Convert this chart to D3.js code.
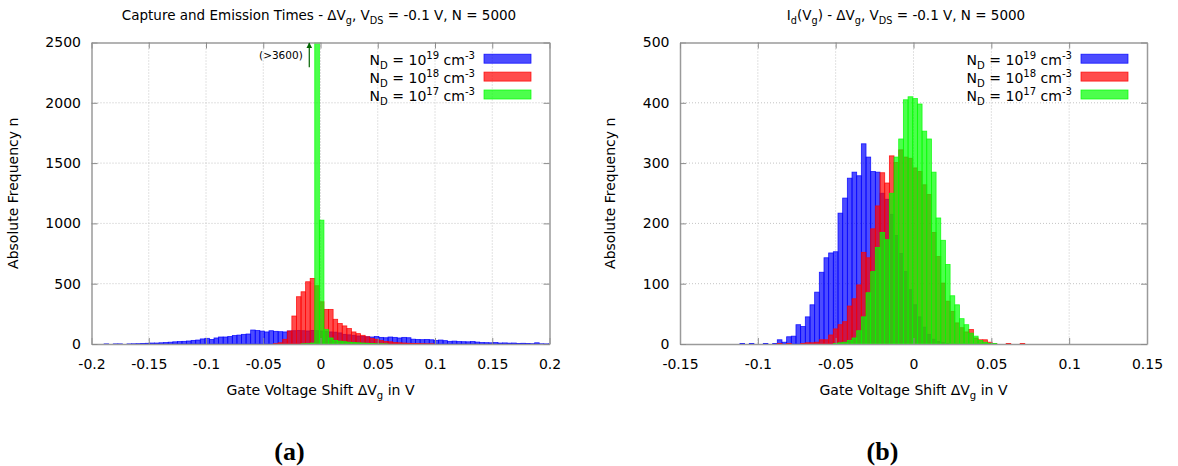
<!DOCTYPE html>
<html>
<head>
<meta charset="utf-8">
<script src="https://cdn.jsdelivr.net/npm/d3@7/dist/d3.min.js"></script>
<style>
  body { margin: 0; background: #fff; }
  svg { display: block; font-family: "DejaVu Sans", sans-serif; }
  .tick line { stroke: #8c8c8c; }
  .domain { stroke: #9a9a9a; stroke-width: 1.5; }
  .grid line { stroke: #c4c4c4; stroke-dasharray: 1,2; }
</style>
</head>
<body>
<script>
'use strict';

/* global d3 */

// ---- data: histogram counts, one value per bin, bins start at the given left edge ----

// panel (a): capture and emission times, bin width 0.004 V
var leftBinWidth = 0.004;
var leftBlueStart = -0.189;
var leftBlue = [1, 0, 1, 1, 0, 1, 2, 3, 5, 6,
    8, 8, 10, 12, 15, 18, 20, 22, 25, 30,
    33, 42, 47, 38, 50, 58, 58, 62, 70, 74,
    80, 83, 116, 112, 107, 100, 110, 105, 102, 100,
    108, 110, 112, 110, 108, 112, 110, 108, 105, 100,
    98, 92, 80, 76, 72, 66, 62, 60, 58, 62,
    55, 52, 58, 55, 50, 55, 52, 40, 38, 36,
    38, 35, 30, 33, 28, 22, 24, 20, 19, 18,
    20, 16, 12, 11, 10, 12, 8, 9, 7, 8,
    5, 6, 4, 3, 10, 2, 1, 1];
var leftRedStart = -0.041;
var leftRed = [3, 10, 39, 108, 232, 392, 433, 516, 544, 483,
    350, 287, 287, 205, 170, 150, 128, 100, 86, 72,
    60, 47, 38, 28, 20, 18, 12, 10, 8, 6,
    5, 4, 3, 2, 2];
var leftGreenStart = -0.017;
var leftGreen = [2, 3, 8, 3600, 1027, 120, 50, 30, 24, 19,
    15, 12, 10, 8, 6, 5, 3, 2, 1];

// panel (b): Id(Vg), bin width 0.003 V
var rightBinWidth = 0.003;
var rightBlueStart = -0.1115;
var rightBlue = [1, 0, 1, 0, 0, 1, 0, 1, 7, 3,
    12, 13, 32, 29, 45, 65, 86, 119, 143, 151,
    153, 217, 242, 275, 285, 279, 332, 310, 286, 285,
    250, 240, 215, 180, 150, 120, 90, 65, 45, 28,
    16, 8, 4, 2, 1];
var rightRedStart = -0.0875;
var rightRed = [1, 0, 1, 0, 0, 1, 2, 2, 3, 7,
    7, 15, 25, 32, 37, 63, 75, 98, 152, 143,
    191, 229, 284, 267, 312, 301, 322, 310, 308, 292,
    286, 264, 248, 185, 145, 101, 71, 54, 35, 27,
    20, 24, 10, 7, 7, 3, 1, 0, 0, 1,
    0, 0, 1];
var rightGreenStart = -0.0515;
var rightGreen = [1, 2, 3, 6, 10, 22, 45, 85, 120, 160,
    185, 173, 250, 310, 340, 405, 410, 407, 398, 353,
    340, 285, 209, 172, 132, 80, 65, 42, 32, 18,
    13, 6, 3, 1, 1];

// ticks
var leftXTicks = [-0.2, -0.15, -0.1, -0.05, 0, 0.05, 0.1, 0.15, 0.2];
var leftYTicks = [0, 500, 1000, 1500, 2000, 2500];
var rightXTicks = [-0.15, -0.1, -0.05, 0, 0.05, 0.1, 0.15];
var rightYTicks = [0, 100, 200, 300, 400, 500];

// legend exponents, same order as the series
var legendExponents = ["19", "18", "17"];
var seriesColors = ["#0000ff", "#ff0000", "#00ff00"];

// clipped bar annotation in panel (a)
var spikeArrowX = -0.0098;
var spikeLabel = "(>3600)";

// ---- drawing ----

var svg = d3.select("body").append("svg")
    .attr("width", 1178)
    .attr("height", 466);

var fmt = function(d) { return String(+d.toFixed(2)); };

// parts: [text, "sub" | "sup" | undefined]
function richText(sel, parts, size) {
    var small = size * 0.72;
    var back = 0;
    parts.forEach(function(p) {
        var own = p[1] === "sub" ? size * 0.3 : (p[1] === "sup" ? -size * 0.42 : 0);
        var t = sel.append("tspan").text(p[0]);
        if (own + back !== 0) {
            t.attr("dy", own + back);
        }
        if (p[1]) {
            t.attr("font-size", small);
        }
        back = -own;
    });
}

function drawPanel(cfg) {
    var g = svg.append("g");
    var x = d3.scaleLinear().domain(cfg.xDomain).range([cfg.left, cfg.right]);
    var y = d3.scaleLinear().domain(cfg.yDomain).range([cfg.bottom, cfg.top]);

    // grid
    g.append("g").attr("class", "grid")
        .selectAll("line.v").data(cfg.xTicks.slice(1, -1)).enter().append("line")
        .attr("x1", x).attr("x2", x).attr("y1", cfg.top).attr("y2", cfg.bottom);
    g.append("g").attr("class", "grid")
        .selectAll("line.h").data(cfg.yTicks.slice(1, -1)).enter().append("line")
        .attr("x1", cfg.left).attr("x2", cfg.right).attr("y1", y).attr("y2", y);

    var clipId = "clip" + cfg.id;
    svg.append("clipPath").attr("id", clipId).append("rect")
        .attr("x", cfg.left).attr("y", cfg.top)
        .attr("width", cfg.right - cfg.left).attr("height", cfg.bottom - cfg.top);

    var bars = g.append("g").attr("clip-path", "url(#" + clipId + ")");
    cfg.series.forEach(function(s, si) {
        var rows = s.values.map(function(v, i) {
            return { x0: s.start + i * cfg.binWidth, x1: s.start + (i + 1) * cfg.binWidth, n: v };
        }).filter(function(d) { return d.n > 0; });
        bars.append("g").selectAll("rect").data(rows).enter().append("rect")
            .attr("x", function(d) { return x(d.x0); })
            .attr("width", function(d) { return x(d.x1) - x(d.x0); })
            .attr("y", function(d) { return y(d.n); })
            .attr("height", function(d) { return y(0) - y(d.n); })
            .attr("fill", seriesColors[si])
            .attr("fill-opacity", 0.7)
            .attr("stroke", seriesColors[si])
            .attr("stroke-opacity", 0.85)
            .attr("stroke-width", 0.8);
    });

    // axes with inward ticks, mirrored on top and right
    var axB = g.append("g").attr("transform", "translate(0," + cfg.bottom + ")")
        .call(d3.axisBottom(x).tickValues(cfg.xTicks).tickFormat(fmt)
            .tickSizeInner(-6).tickSizeOuter(0).tickPadding(15));
    var axL = g.append("g").attr("transform", "translate(" + cfg.left + ",0)")
        .call(d3.axisLeft(y).tickValues(cfg.yTicks).tickFormat(fmt)
            .tickSizeInner(-6).tickSizeOuter(0).tickPadding(10.5));
    g.append("g").attr("transform", "translate(0," + cfg.top + ")")
        .call(d3.axisTop(x).tickValues(cfg.xTicks).tickFormat("")
            .tickSizeInner(-6).tickSizeOuter(0));
    g.append("g").attr("transform", "translate(" + cfg.right + ",0)")
        .call(d3.axisRight(y).tickValues(cfg.yTicks).tickFormat("")
            .tickSizeInner(-6).tickSizeOuter(0));
    [axB, axL].forEach(function(a) {
        a.selectAll("text").attr("font-size", 14).attr("fill", "#000")
            .attr("font-family", "DejaVu Sans");
    });
    g.selectAll(".domain").attr("stroke", "#9a9a9a");

    // title
    richText(g.append("text").attr("x", cfg.titleX).attr("y", 20)
        .attr("text-anchor", "middle").attr("font-size", 13.5), cfg.title, 13.5);

    // axis labels
    richText(g.append("text").attr("x", (cfg.left + cfg.right) / 2).attr("y", 395)
        .attr("text-anchor", "middle").attr("font-size", 14),
        [["Gate Voltage Shift \u0394V"], ["g", "sub"], [" in V"]], 14);
    g.append("text")
        .attr("transform", "translate(" + cfg.yLabelX + "," + ((cfg.top + cfg.bottom) / 2) + ") rotate(-90)")
        .attr("text-anchor", "middle").attr("font-size", 14)
        .text("Absolute Frequency n");

    // legend
    legendExponents.forEach(function(e, i) {
        var yy = 58.7 + i * 17.9;
        richText(g.append("text").attr("x", cfg.legendX).attr("y", yy + 6)
            .attr("text-anchor", "end").attr("font-size", 14),
            [["N"], ["D", "sub"], [" = 10"], [e, "sup"], [" cm"], ["-3", "sup"]], 14);
        g.append("rect")
            .attr("x", cfg.legendX + 9).attr("y", yy - 4.5)
            .attr("width", 47).attr("height", 9)
            .attr("fill", seriesColors[i]).attr("fill-opacity", 0.7)
            .attr("stroke", seriesColors[i]).attr("stroke-opacity", 0.85).attr("stroke-width", 0.8);
    });

    // panel letter
    g.append("text").attr("x", (cfg.left + cfg.right) / 2 - 31).attr("y", 460)
        .attr("text-anchor", "middle")
        .attr("font-family", "Liberation Serif, serif").attr("font-weight", "bold")
        .attr("font-size", 26).text(cfg.letter);

    return { x: x, y: y, g: g };
}

var left = drawPanel({
    id: "a", letter: "(a)",
    left: 91.5, right: 549.5, top: 42.5, bottom: 344,
    xDomain: [-0.2, 0.2], yDomain: [0, 2500],
    xTicks: leftXTicks, yTicks: leftYTicks,
    binWidth: leftBinWidth,
    series: [
        { start: leftBlueStart, values: leftBlue },
        { start: leftRedStart, values: leftRed },
        { start: leftGreenStart, values: leftGreen }
    ],
    title: [["Capture and Emission Times - \u0394V"], ["g", "sub"], [", V"], ["DS", "sub"], [" = -0.1 V, N = 5000"]],
    titleX: 319, yLabelX: 18, legendX: 475
});

var right = drawPanel({
    id: "b", letter: "(b)",
    left: 680, right: 1147, top: 42.5, bottom: 344,
    xDomain: [-0.15, 0.15], yDomain: [0, 500],
    xTicks: rightXTicks, yTicks: rightYTicks,
    binWidth: rightBinWidth,
    series: [
        { start: rightBlueStart, values: rightBlue },
        { start: rightRedStart, values: rightRed },
        { start: rightGreenStart, values: rightGreen }
    ],
    title: [["I"], ["d", "sub"], ["(V"], ["g", "sub"], [") - \u0394V"], ["g", "sub"], [", V"], ["DS", "sub"], [" = -0.1 V, N = 5000"]],
    titleX: 906, yLabelX: 615, legendX: 1072
});

// arrow for the clipped bar in panel (a)
svg.append("defs").append("marker")
    .attr("id", "arrowHead").attr("viewBox", "0 0 10 10")
    .attr("refX", 9).attr("refY", 5)
    .attr("markerWidth", 6).attr("markerHeight", 7)
    .attr("markerUnits", "userSpaceOnUse")
    .attr("orient", "auto")
    .append("path").attr("d", "M0,0 L10,5 L0,10 z").attr("fill", "#006400");

left.g.append("line")
    .attr("x1", left.x(spikeArrowX)).attr("x2", left.x(spikeArrowX))
    .attr("y1", left.y(2295)).attr("y2", left.y(2500) + 0.5)
    .attr("stroke", "#006400").attr("stroke-width", 1.2)
    .attr("marker-end", "url(#arrowHead)");

left.g.append("text")
    .attr("x", left.x(spikeArrowX) - 6.5).attr("y", left.y(2400) + 4)
    .attr("text-anchor", "end").attr("font-size", 10.5)
    .text(spikeLabel);
</script>
</body>
</html>
